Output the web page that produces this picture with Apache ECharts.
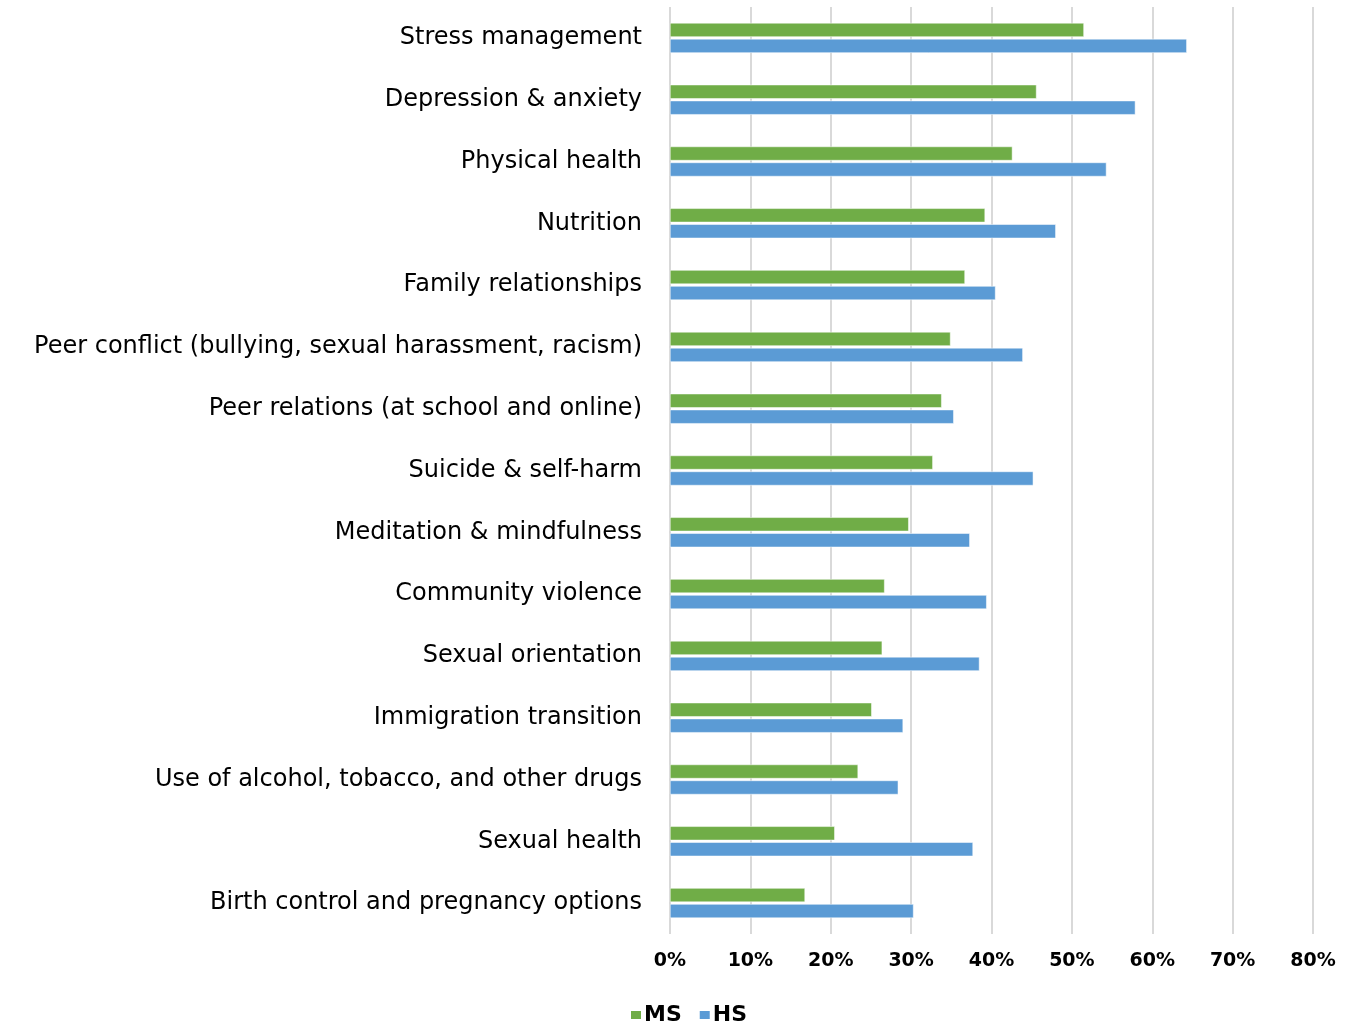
<!DOCTYPE html>
<html><head><meta charset="utf-8">
<script src="https://cdn.jsdelivr.net/npm/echarts@6/dist/echarts.min.js"></script>
<style>html,body{margin:0;padding:0;background:#fff}#c{width:1357px;height:1024px}</style>
</head><body><div id="c"></div>
<script>
const categories = [
  "Stress management",
  "Depression & anxiety",
  "Physical health",
  "Nutrition",
  "Family relationships",
  "Peer conflict (bullying, sexual harassment, racism)",
  "Peer relations (at school and online)",
  "Suicide & self-harm",
  "Meditation & mindfulness",
  "Community violence",
  "Sexual orientation",
  "Immigration transition",
  "Use of alcohol, tobacco, and other drugs",
  "Sexual health",
  "Birth control and pregnancy options"
];
const msValues = [51.5, 45.6, 42.6, 39.2, 36.7, 34.9, 33.8, 32.7, 29.7, 26.7, 26.4, 25.1, 23.4, 20.5, 16.8];
const hsValues = [64.3, 57.9, 54.3, 48.0, 40.5, 43.9, 35.3, 45.2, 37.3, 39.4, 38.5, 29.0, 28.4, 37.7, 30.3];
const seriesNames = ["MS", "HS"];
const colors = ["#70AD47", "#5B9BD5"];

const chart = echarts.init(document.getElementById('c'));
chart.setOption({
  animation: false,
  backgroundColor: '#fff',
  grid: { left: 670, right: 44, top: 7, bottom: 90, containLabel: false },
  xAxis: {
    type: 'value', min: 0, max: 80, interval: 10,
    axisLine: { show: false }, axisTick: { show: false },
    splitLine: { show: true, lineStyle: { color: '#d9d9d9', width: 2 } },
    axisLabel: { formatter: '{value}%', fontFamily: 'DejaVu Sans', fontWeight: 'bold', fontSize: 19, color: '#000', margin: 18 }
  },
  yAxis: {
    type: 'category', data: categories, inverse: true,
    axisLine: { show: false }, axisTick: { show: false },
    axisLabel: { fontFamily: 'DejaVu Sans', fontSize: 24, color: '#000', margin: 28 }
  },
  legend: {
    data: seriesNames, left: 624, top: 999, itemWidth: 12, itemHeight: 10, itemGap: 16,
    icon: 'rect',
    textStyle: { fontFamily: 'DejaVu Sans', fontWeight: 'bold', fontSize: 22, color: '#000', padding: [0, 0, 0, -3] }
  },
  series: [
    { name: seriesNames[0], type: 'bar', data: msValues, barWidth: 14, barGap: '14%',
      itemStyle: { color: colors[0], borderColor: '#fff', borderWidth: 0.5 } },
    { name: seriesNames[1], type: 'bar', data: hsValues, barWidth: 14, barGap: '14%',
      itemStyle: { color: colors[1], borderColor: '#fff', borderWidth: 0.5 } }
  ]
});
</script></body></html>
